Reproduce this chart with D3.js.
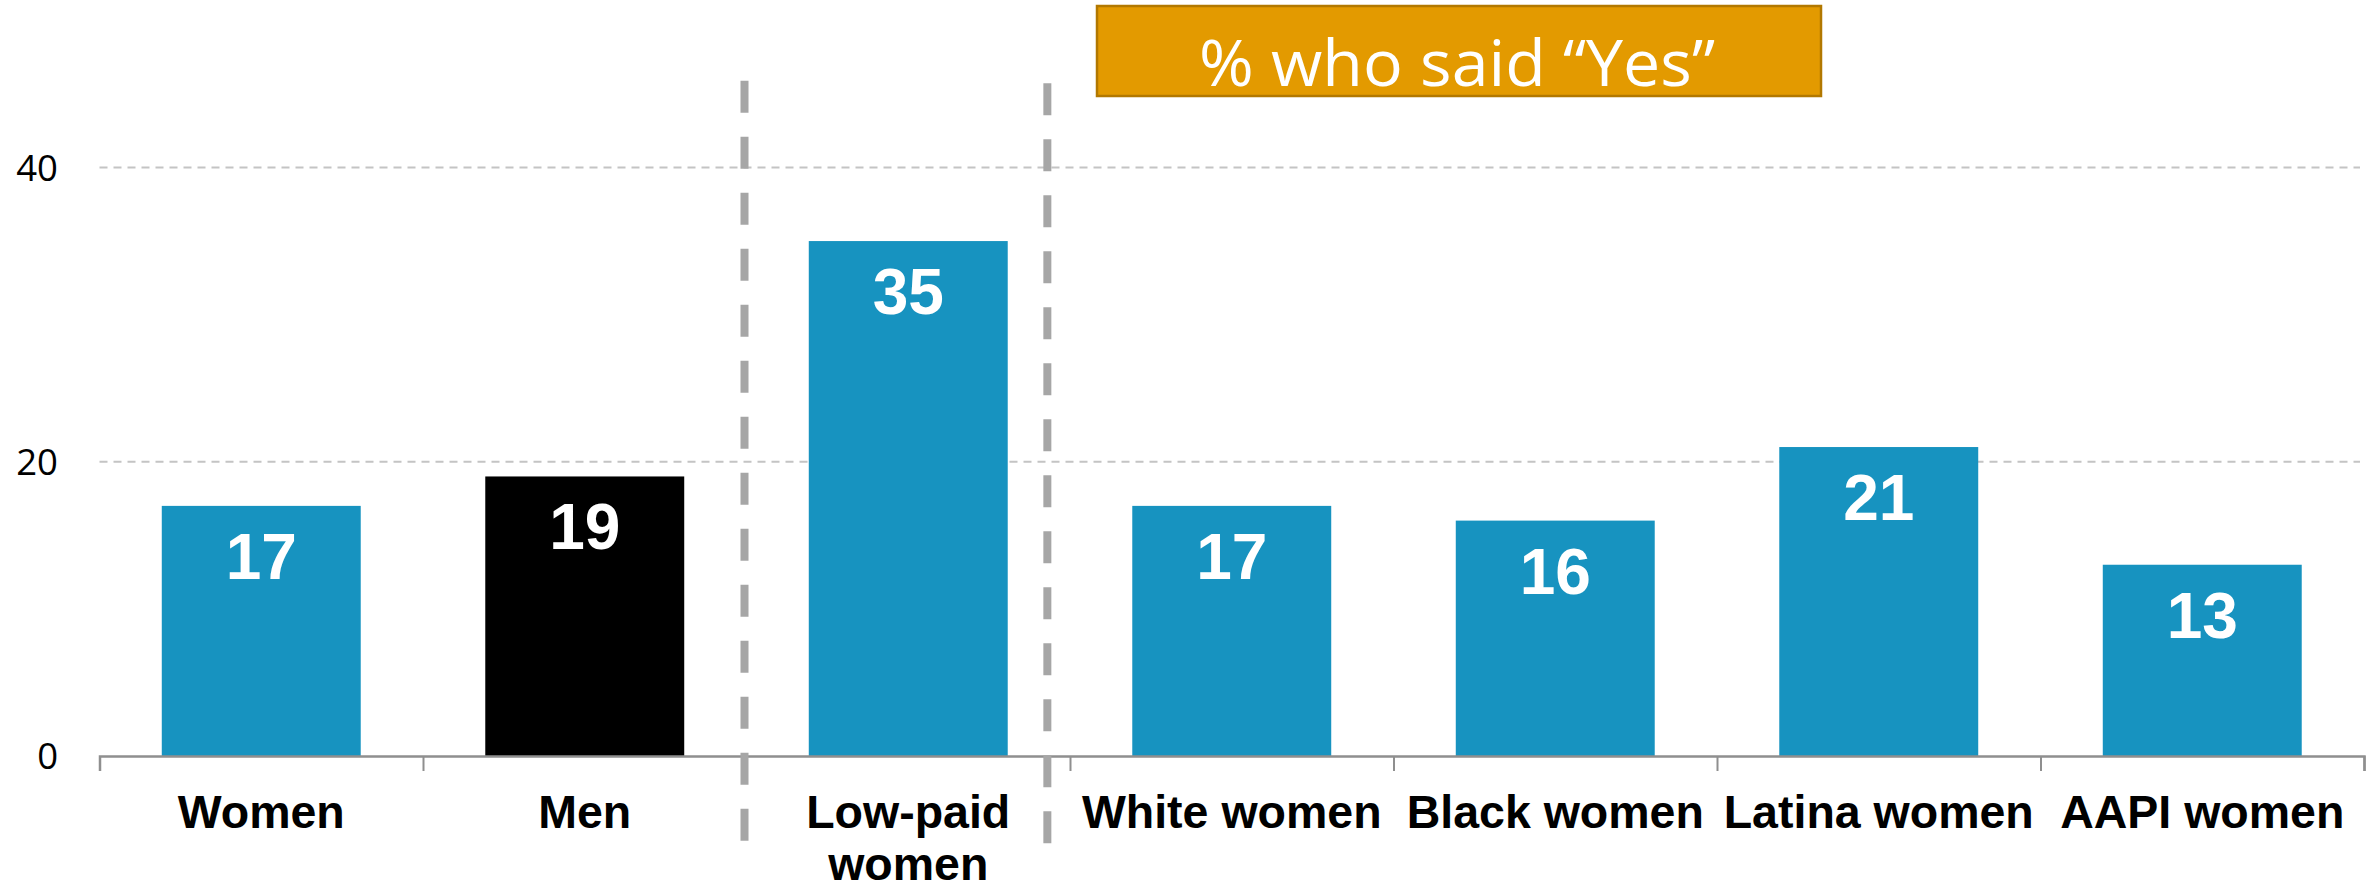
<!DOCTYPE html>
<html>
<head>
<meta charset="utf-8">
<script src="https://cdn.jsdelivr.net/npm/d3@7"></script>
<style>
  html, body { margin: 0; padding: 0; background: #fff; }
  svg { display: block; }
</style>
</head>
<body>
<svg id="chart" width="2379" height="890"></svg>
<script>
// Share answering "Yes", by group
const categories = ["Women", "Men", "Low-paid women", "White women", "Black women", "Latina women", "AAPI women"];
const values = [17, 19, 35, 17, 16, 21, 13];
const highlight = ["Men"];          // drawn in black
const yTicks = [0, 20, 40];
const gridTicks = [20, 40];
const titleText = "% who said \u201CYes\u201D";

const W = 2379, H = 890;
const left = 99.5, right = 2364;
const y0px = 756, y40px = 167.5;

const svg = d3.select("#chart");

const y = d3.scaleLinear().domain([0, 40]).range([y0px, y40px]);

const pInner = 0.385;
const x = d3.scaleBand()
  .domain(categories)
  .range([left, right])
  .paddingInner(pInner)
  .paddingOuter(pInner / 2);
const step = x.step();

// boundaries between categories, used for axis ticks
const xb = d3.scaleLinear().domain([0, categories.length]).range([left, right]);

// horizontal dashed gridlines
svg.append("g")
  .selectAll("line")
  .data(gridTicks)
  .join("line")
  .attr("x1", left).attr("x2", right - 4)
  .attr("y1", d => y(d)).attr("y2", d => y(d))
  .attr("stroke", "#c4c4c4")
  .attr("stroke-width", 2)
  .attr("stroke-dasharray", "8,6");

// y tick labels
svg.append("g")
  .selectAll("text")
  .data(yTicks)
  .join("text")
  .attr("x", 58)
  .attr("y", d => y(d))
  .attr("dy", "0.36em")
  .attr("text-anchor", "end")
  .attr("font-family", "'Open Sans', 'Noto Sans', sans-serif")
  .attr("font-size", 36.5)
  .attr("fill", "#000")
  .text(d => d);

// bars
svg.append("g")
  .selectAll("rect")
  .data(categories)
  .join("rect")
  .attr("x", d => x(d))
  .attr("width", x.bandwidth())
  .attr("y", (d, i) => y(values[i]))
  .attr("height", (d, i) => y(0) - y(values[i]))
  .attr("fill", d => highlight.includes(d) ? "#000000" : "#1793c0");

// value labels inside bars
svg.append("g")
  .selectAll("text")
  .data(categories)
  .join("text")
  .attr("x", d => x(d) + x.bandwidth() / 2)
  .attr("y", (d, i) => y(values[i]) + 73)
  .attr("text-anchor", "middle")
  .attr("font-family", "'Liberation Sans', Arial, sans-serif")
  .attr("font-weight", "bold")
  .attr("font-size", 64)
  .attr("fill", "#fff")
  .text((d, i) => values[i]);

// x axis with ticks at category boundaries
const axis = d3.axisBottom(xb)
  .tickValues(d3.range(categories.length + 1))
  .tickSize(15)
  .tickSizeOuter(15)
  .tickFormat("");
const gx = svg.append("g")
  .attr("transform", `translate(0,${y(0)})`)
  .call(axis);
gx.select(".domain").attr("stroke", "#8f8f8f").attr("stroke-width", 2.5);
gx.selectAll(".tick line").attr("stroke", "#8f8f8f").attr("stroke-width", 2);

// category labels, wrapped when wider than a slot
const labels = svg.append("g")
  .selectAll("text")
  .data(categories)
  .join("text")
  .attr("x", d => x(d) + x.bandwidth() / 2)
  .attr("y", 828)
  .attr("text-anchor", "middle")
  .attr("font-family", "'Liberation Sans', Arial, sans-serif")
  .attr("font-weight", "bold")
  .attr("font-size", 46.5)
  .attr("fill", "#000")
  .text(d => d);

labels.each(function(d) {
  const t = d3.select(this);
  if (this.getComputedTextLength() > step) {
    const words = d.split(" ");
    const cx = t.attr("x");
    t.text(null);
    t.append("tspan").attr("x", cx).attr("dy", 0).text(words.slice(0, -1).join(" "));
    t.append("tspan").attr("x", cx).attr("dy", 52).text(words[words.length - 1]);
  }
});

// dashed group separators
const separators = [
  { pos: xb(2) - 2, top: 80.7, bottom: 841 },
  { pos: xb(3) - 0.07 * step, top: 83.3, bottom: 844 }
];
svg.append("g")
  .selectAll("line")
  .data(separators)
  .join("line")
  .attr("x1", d => d.pos).attr("x2", d => d.pos)
  .attr("y1", d => d.top).attr("y2", d => d.bottom)
  .attr("stroke", "#a6a6a6")
  .attr("stroke-width", 8)
  .attr("stroke-dasharray", "32,24");

// title box
const box = { x: 1097, y: 6, w: 724, h: 90 };
svg.append("rect")
  .attr("x", box.x).attr("y", box.y)
  .attr("width", box.w).attr("height", box.h)
  .attr("fill", "#e39a00")
  .attr("stroke", "#b27800")
  .attr("stroke-width", 2.5);
svg.append("text")
  .attr("x", box.x + box.w / 2 - 2)
  .attr("y", 86)
  .attr("text-anchor", "middle")
  .attr("font-family", "'Open Sans', 'Noto Sans', sans-serif")
  .attr("font-size", 64)
  .attr("fill", "#fff")
  .attr("textLength", 516)
  .attr("lengthAdjust", "spacingAndGlyphs")
  .text(titleText);
</script>
</body>
</html>
